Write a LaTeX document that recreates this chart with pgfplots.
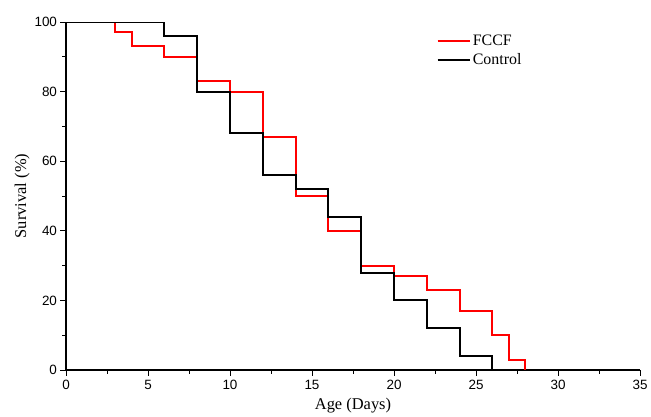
\documentclass[border=0pt]{standalone}
\usepackage{fontspec}
\setmainfont{Liberation Serif}
\setsansfont{Liberation Sans}
\usepackage{pgfplots}
\pgfplotsset{compat=1.18}

\begin{document}
\begin{tikzpicture}
  \begin{axis}[
    width=574bp, height=348bp, scale only axis,
    xmin=0, xmax=35, ymin=0, ymax=100,
    xtick={0,5,...,35}, ytick={0,20,...,100},
    minor x tick num=1, minor y tick num=1,
    axis x line*=bottom, axis y line*=left,
    tick align=outside,
    major tick length=5.5bp, minor tick length=3.5bp,
    every tick/.style={black, line width=1pt},
    axis line style={black, line width=1.2pt, -},
    xticklabel={\pgfmathprintnumber[assume math mode=true]{\tick}},
    yticklabel={\pgfmathprintnumber[assume math mode=true]{\tick}},
    tick label style={font=\sffamily\fontsize{13.5}{15}\selectfont},
    xticklabel style={yshift=-1bp},
    label style={font=\fontsize{16.5}{18}\selectfont},
    xlabel={Age (Days)}, ylabel={Survival (\%)},
    xlabel style={yshift=-2bp}, ylabel style={yshift=-2bp},
    legend style={draw=none, fill=none, at={(0.64,0.975)}, anchor=north west,
      font=\fontsize{16}{18}\selectfont, row sep=3bp},
    legend cell align=left,
    legend image post style={xscale=1.9},
  ]
    \addplot[const plot, red, line width=2pt] coordinates {
      (0,100) (3,97) (4,93) (6,90) (8,83) (10,80) (12,67) (14,50)
      (16,40) (18,30) (20,27) (22,23) (24,17) (26,10) (27,3) (28,0)
    };
    \addlegendentry{FCCF}
    \addplot[const plot, black, line width=2pt] coordinates {
      (0,100) (6,96) (8,80) (10,68) (12,56) (14,52) (16,44) (18,28)
      (20,20) (22,12) (24,4) (26,0)
    };
    \addlegendentry{Control}
  \end{axis}
  \path ([shift={(-66bp,-43bp)}]current axis.south west)
    rectangle ([shift={(11bp,22bp)}]current axis.north east);
\end{tikzpicture}
\end{document}
